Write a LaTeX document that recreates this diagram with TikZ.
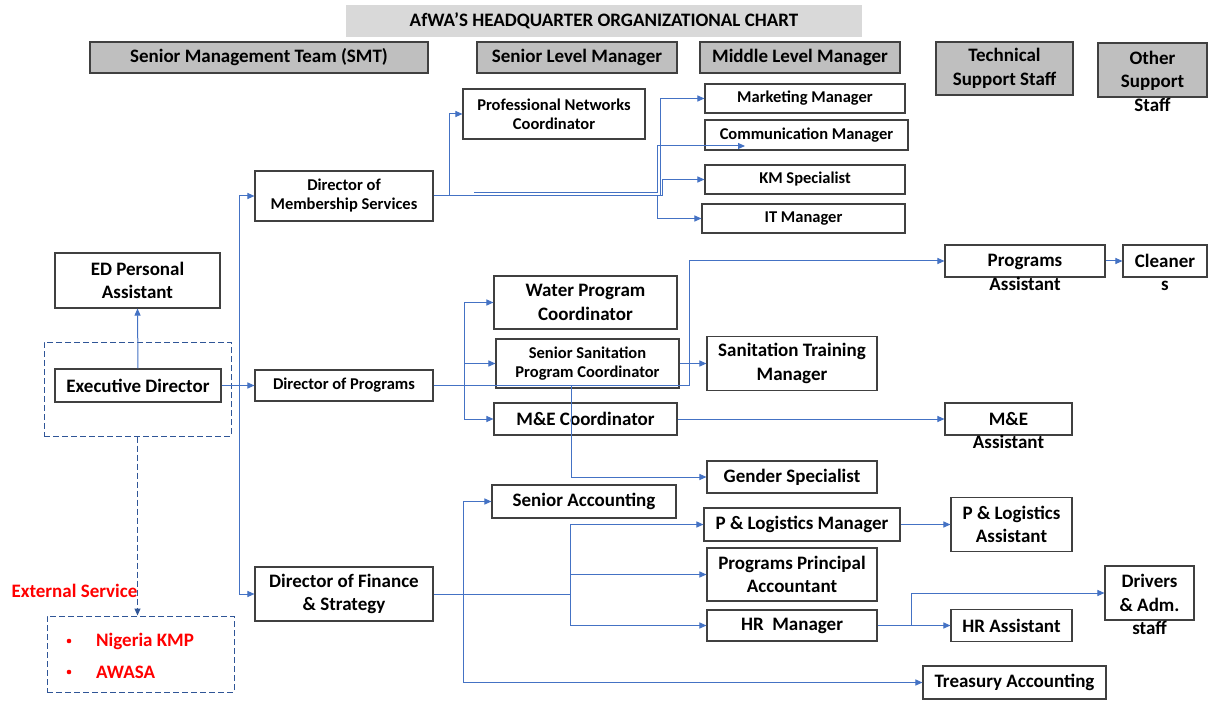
\documentclass[tikz,border=0pt]{standalone}
\usepackage{fontspec}
\setmainfont{Carlito}
\usetikzlibrary{arrows.meta}
\definecolor{conn}{HTML}{4472C4}
\definecolor{dash}{HTML}{2F5597}
\definecolor{hdrfill}{HTML}{BFBFBF}
\definecolor{titlefill}{HTML}{D9D9D9}
\definecolor{bord}{HTML}{404040}
\newcommand{\bigf}{\fontsize{19}{23.5}\selectfont\bfseries}
\newcommand{\smallf}{\fontsize{16.5}{19}\selectfont\bfseries}
\begin{document}
\begin{tikzpicture}[x=1pt,y=-1pt,
  box/.style={draw=bord, line width=1.1pt, fill=white, align=center, inner sep=0pt, font=\bigf},
  sbox/.style={box, font=\smallf},
  hdr/.style={draw=bord, line width=1.1pt, fill=hdrfill, align=center, inner sep=0pt, font=\bigf},
  txt/.style={align=center, inner sep=0pt, font=\bigf},
  arr/.style={draw=conn, line width=1pt, -{Triangle[length=7pt,width=6pt]}},
  ln/.style={draw=conn, line width=1pt},
  dbox/.style={draw=dash, line width=1pt, dash pattern=on 6pt off 3pt, inner sep=0pt}]
\useasboundingbox[fill=white] (0,0) rectangle (1209,708);

% title and headers
\node[fill=titlefill, minimum width=516, minimum height=32, inner sep=0pt, font=\bigf] (title) at (604,21) {AfWA’S HEADQUARTER ORGANIZATIONAL CHART};
\node[hdr, minimum width=338, minimum height=31] (smt) at (259,57.5) {Senior Management Team (SMT)};
\node[hdr, minimum width=200, minimum height=31] (slm) at (577,57.5) {Senior Level Manager};
\node[hdr, minimum width=200, minimum height=31] (mlm) at (800,57.5) {Middle Level Manager};
\node[hdr, minimum width=137, minimum height=53] (tss) at (1004.5,68.5) {Technical\\Support Staff};
\node[hdr, minimum width=109, minimum height=54] (oss) at (1152.5,70) {};
\node[txt] (osst) at (1152.5,81) {Other\\Support\\Staff};

% membership
\node[sbox, minimum width=178, minimum height=50] (dms) at (344,196) {Director of\\Membership Services};
\node[sbox, minimum width=182, minimum height=50] (pnc) at (554,114) {Professional Networks\\Coordinator};
\node[sbox, minimum width=200, minimum height=29] (mm) at (805,98.5) {Marketing Manager};
\node[sbox, minimum width=203, minimum height=30] (cm) at (806.5,135) {Communication Manager};
\node[sbox, minimum width=200, minimum height=29] (km) at (805,179.5) {KM Specialist};
\node[sbox, minimum width=203, minimum height=29] (it) at (803.5,218.5) {IT Manager};

% ED
\node[box, minimum width=165, minimum height=55] (edpa) at (137.5,280.5) {ED Personal\\Assistant};
\node[dbox, minimum width=187, minimum height=94] (edg) at (137.5,389) {};
\node[box, minimum width=166, minimum height=33] (ed) at (138,385.5) {Executive Director};

% programs
\node[sbox, minimum width=178, minimum height=31] (dp) at (344,385.5) {Director of Programs};
\node[box, minimum width=183, minimum height=53] (wpc) at (585.5,302.5) {Water Program\\Coordinator};
\node[sbox, minimum width=183, minimum height=49] (sspc) at (587.5,363.5) {Senior Sanitation\\Program Coordinator};
\node[box, minimum width=170, minimum height=54] (stm) at (792,363.5) {Sanitation Training\\Manager};
\node[box, minimum width=183, minimum height=32] (mec) at (585.5,419) {M\&E Coordinator};
\node[box, minimum width=170, minimum height=32] (gs) at (792,477) {Gender Specialist};
\node[box, minimum width=160, minimum height=32] (pa) at (1025,261) {};
\node[txt] (pat) at (1025,272.5) {Programs\\Assistant};
\node[box, minimum width=84, minimum height=32] (cl) at (1165,261) {};
\node[txt] (clt) at (1165,272.5) {Cleaner\\s};
\node[box, minimum width=127, minimum height=32] (mea) at (1008.5,419) {};
\node[txt] (meat) at (1008.5,430.5) {M\&E\\Assistant};

% finance
\node[box, minimum width=178, minimum height=54] (dfs) at (344,594) {Director of Finance\\\& Strategy};
\node[box, minimum width=184, minimum height=33] (sa) at (584,501.5) {Senior Accounting};
\node[box, minimum width=196, minimum height=33] (plm) at (802,524.5) {P \& Logistics Manager};
\node[box, minimum width=121, minimum height=54] (pla) at (1011.5,524.5) {P \& Logistics\\Assistant};
\node[box, minimum width=170, minimum height=53] (ppa) at (792,574.5) {Programs Principal\\Accountant};
\node[box, minimum width=170, minimum height=31] (hrm) at (792,625.5) {HR\ \ Manager};
\node[box, minimum width=121, minimum height=32] (hra) at (1011.5,625.5) {HR Assistant};
\node[box, minimum width=89, minimum height=54] (das) at (1149.5,593) {};
\node[txt] (dast) at (1149.5,604.5) {Drivers\\\& Adm.\\staff};
\node[box, minimum width=183, minimum height=33] (ta) at (1014.5,682.5) {Treasury Accounting};

% external
\node[txt, text=red] (exl) at (74.5,591) {External Service};
\node[dbox, minimum width=187, minimum height=76] (ext) at (140.5,654) {};
\node[font=\bigf, text=red, anchor=west, inner sep=0pt] (b1) at (96,641) {Nigeria KMP};
\node[font=\bigf, text=red, anchor=west, inner sep=0pt] (b2) at (96,672) {AWASA};
\fill[red] (b1.west) ++(-27,0) circle (2.3pt);
\fill[red] (b2.west) ++(-27,0) circle (2.3pt);

% connectors: ED
\draw[arr] (ed.north) -- (edpa.south);
\draw[arr, draw=dash, dash pattern=on 6pt off 3pt] (edg.south) -- (edg.south |- ext.north);
\coordinate (t1) at (239,385.5);
\draw[arr] (ed.east) -- (dp.west);
\draw[arr] (t1) |- (dms.west);
\draw[arr] (t1) |- (dfs.west);

% membership
\coordinate (m1) at (449,196);
\coordinate (m2) at (660,196);
\coordinate (m3) at (662,196);
\coordinate (m4) at (657,196);
\coordinate (cms) at (474,193);
\coordinate (cmk) at (657,193);
\coordinate (cme) at (745,146);
\draw[ln] (dms.east) -- (m3);
\draw[arr] (m1) |- (pnc.west);
\draw[arr] (m2) |- (mm.west);
\draw[arr] (cms) -- (cmk) |- (cme);
\draw[arr] (m3) |- (km.west);
\draw[arr] (m4) |- (it.west);

% programs
\coordinate (p1) at (464,385.5);
\coordinate (p2) at (571,385.5);
\coordinate (p3) at (689,385.5);
\draw[ln] (dp.east) -- (p3);
\draw[arr] (p3) |- (pa.west);
\draw[arr] (p1) |- (wpc.west);
\draw[arr] (p1) |- (sspc.west);
\draw[arr] (p1) |- (mec.west);
\draw[arr] (p2) |- (gs.west);
\draw[arr] (sspc.east) -- (stm.west);
\draw[arr] (mec.east) -- (mea.west);
\draw[arr] (pa.east) -- (cl.west);

% finance
\coordinate (f1) at (463,594);
\coordinate (f2) at (570,594);
\draw[ln] (dfs.east) -- (f2);
\draw[arr] (f1) |- (sa.west);
\draw[arr] (f1) |- (ta.west);
\draw[arr] (f2) |- (plm.west);
\draw[arr] (f2) |- (ppa.west);
\draw[arr] (f2) |- (hrm.west);
\draw[arr] (plm.east) -- (pla.west);
\coordinate (h1) at (911,625.5);
\draw[arr] (hrm.east) -- (hra.west);
\draw[arr] (h1) |- (das.west);
\end{tikzpicture}
\end{document}
